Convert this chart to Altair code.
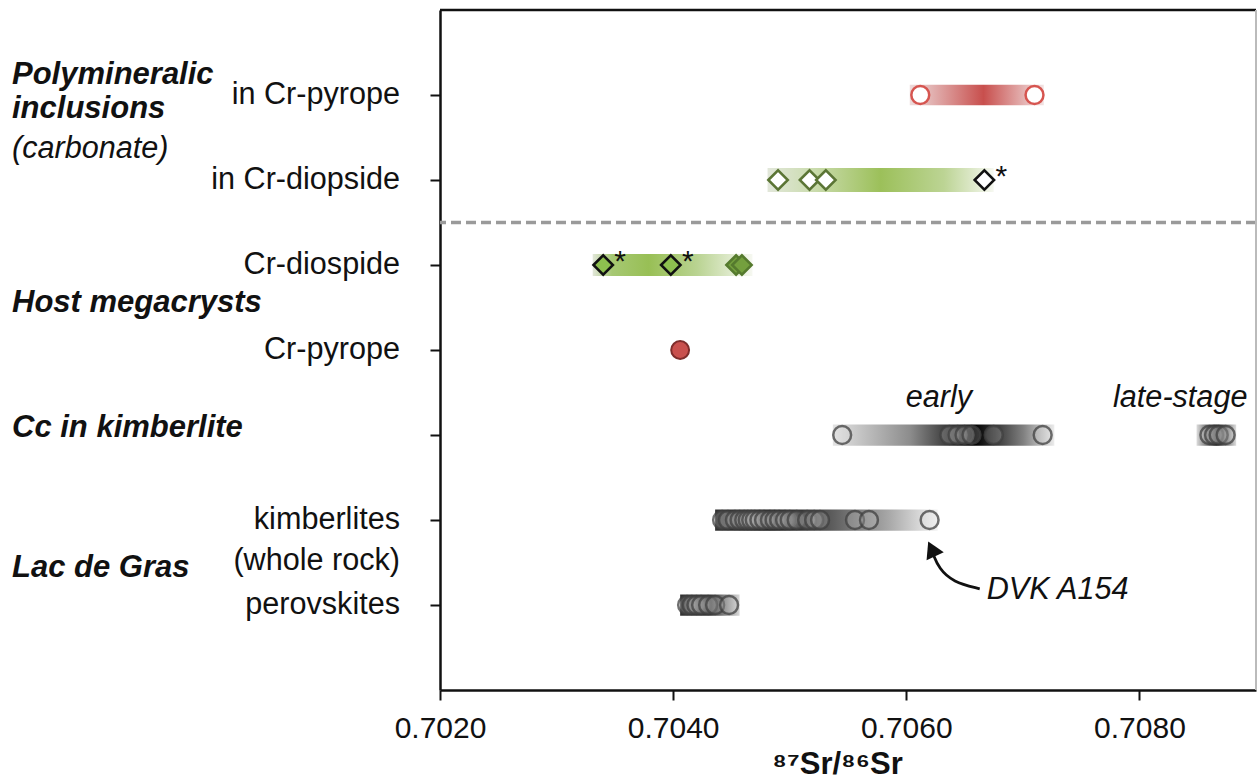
import altair as alt
import pandas as pd

FONT = "Liberation Sans"

# ---------------- data ----------------
# rows (y positions of categories, top = 7)
row_labels = ["in Cr-pyrope", "in Cr-diopside", "Cr-diospide", "Cr-pyrope",
              "kimberlites", "(whole rock)", "perovskites"]
row_label_y = [7, 6, 5, 4, 2, 1.52, 1]
row_ticks = [1, 2, 3, 4, 5, 6, 7]

group_labels = ["Polymineralic", "inclusions", "(carbonate)",
                "Host megacrysts", "Cc in kimberlite", "Lac de Gras"]
group_label_y = [7.23, 6.83, 6.36, 4.55, 3.08, 1.43]
group_label_weight = ["bold", "bold", "normal", "bold", "bold", "bold"]

# polymineralic inclusions in Cr-pyrope (open red circles)
incl_pyrope = [0.70612, 0.70710]
# polymineralic inclusions in Cr-diopside (open diamonds; last one black with *)
incl_diop_green = [0.70490, 0.70517, 0.70531]
incl_diop_black = [0.70667]
# host Cr-diopside megacrysts
host_diop_star = [0.70340, 0.70398]
host_diop_plain = [0.70454, 0.70459]
# host Cr-pyrope
host_pyrope = [0.70406]
# calcite in kimberlite
cc_early = [0.70545, 0.70637, 0.70644, 0.70650, 0.70656, 0.70675, 0.70717]
cc_late = [0.70860, 0.70864, 0.70868, 0.70874]
# Lac de Gras kimberlites (whole rock)
kimb = [0.70442, 0.70447, 0.70453, 0.70457, 0.70461, 0.70464, 0.70467, 0.70470,
        0.70474, 0.70478, 0.70483, 0.70487, 0.70491, 0.70496, 0.70500, 0.70506,
        0.70515, 0.70521, 0.70526, 0.70556, 0.70568, 0.70620]
# perovskites
perov = [0.70412, 0.70416, 0.70420, 0.70424, 0.70430, 0.70436, 0.70448]

# gradient range bars
bar_row = [7, 6, 5, 3, 3, 2, 1]
bar_lo = [0.70603, 0.70481, 0.70331, 0.70537, 0.70849, 0.70436, 0.70406]
bar_hi = [0.70718, 0.70675, 0.70468, 0.70727, 0.70883, 0.70627, 0.70457]
bar_half = [0.12, 0.14, 0.13, 0.125, 0.125, 0.125, 0.125]
bar_stops = [
    [(0, "#eddcdc"), (0.55, "#c84f4d"), (1, "#f2e4e4")],
    [(0, "#e2e7da"), (0.2, "#cbdcaf"), (0.5, "#9cc05a"), (0.78, "#bcd494"), (1, "#f6f8f1")],
    [(0, "#e1e6d8"), (0.12, "#a6c873"), (0.35, "#98bf55"), (0.65, "#b9d391"), (1, "#f6f8f1")],
    [(0, "#e3e3e3"), (0.35, "#8c8c8c"), (0.64, "#000000"), (0.86, "#808080"), (1, "#ececec")],
    [(0, "#dddddd"), (0.5, "#111111"), (1, "#dddddd")],
    [(0, "#333333"), (0.25, "#111111"), (0.5, "#555555"), (0.78, "#a8a8a8"), (1, "#f4f4f4")],
    [(0, "#333333"), (0.5, "#333333"), (1, "#d8d8d8")],
]

# annotations
stage_text = ["early", "late-stage"]
stage_x = [0.70628, 0.70835]
stage_y = [3.43, 3.43]
dvk_text = ["DVK A154"]
dvk_x = [0.70669]
dvk_y = [1.18]
arrow_x = [0.70663, 0.70640, 0.70628, 0.70623]
arrow_y = [1.19, 1.27, 1.43, 1.60]
arrow_head_x = [0.706218]
arrow_head_y = [1.66]
dashed_y = [5.5]

# ---------------- scales / encodings ----------------
xscale = alt.Scale(domain=[0.7020, 0.7090], nice=False, zero=False)
yscale = alt.Scale(domain=[0, 8], nice=False, zero=False)
xaxis = alt.Axis(values=[0.702, 0.704, 0.706, 0.708], format=".4f",
                 title="⁸⁷Sr/⁸⁶Sr", grid=False, labelFlush=False, titleX=397)
yaxis = alt.Axis(values=row_ticks, labels=False, title=None, grid=False)


def X(f="v", **kw):
    return alt.X(f"{f}:Q", scale=xscale, axis=xaxis, **kw)


def Y(f="y", **kw):
    return alt.Y(f"{f}:Q", scale=yscale, axis=yaxis, **kw)


def pts(vals, row):
    return pd.DataFrame({"v": vals, "y": [row] * len(vals)})


layers = []

# gradient bars
for r, lo, hi, h, stops in zip(bar_row, bar_lo, bar_hi, bar_half, bar_stops):
    df = pd.DataFrame({"v": [lo], "v2": [hi], "y": [r + h], "y2": [r - h]})
    grad = alt.Gradient(gradient="linear", x1=0, x2=1, y1=0, y2=0,
                        stops=[alt.GradientStop(offset=o, color=c) for o, c in stops])
    layers.append(alt.Chart(df).mark_rect(color=grad).encode(
        x=X(), x2="v2:Q", y=Y(), y2="y2:Q"))

# dashed separator
layers.append(alt.Chart(pd.DataFrame({"y": dashed_y})).mark_rule(
    color="#9a9a9a", strokeWidth=3.5, strokeDash=[10, 5]).encode(y=Y()))

# points
layers.append(alt.Chart(pts(incl_pyrope, 7)).mark_point(
    shape="circle", size=320, filled=True, fill="white", stroke="#d65550",
    strokeWidth=2.5, opacity=1).encode(x=X(), y=Y()))
layers.append(alt.Chart(pts(incl_diop_green, 6)).mark_point(
    shape="diamond", size=380, filled=True, fill="white", stroke="#5b7535",
    strokeWidth=2.5, opacity=1).encode(x=X(), y=Y()))
layers.append(alt.Chart(pts(incl_diop_black, 6)).mark_point(
    shape="diamond", size=380, filled=True, fill="white", stroke="#111111",
    strokeWidth=2.5, opacity=1).encode(x=X(), y=Y()))
layers.append(alt.Chart(pts(host_diop_plain, 5)).mark_point(
    shape="diamond", size=380, filled=True, fill="#74a03e", stroke="#557a2e",
    strokeWidth=2.5, opacity=1).encode(x=X(), y=Y()))
layers.append(alt.Chart(pts(host_diop_star, 5)).mark_point(
    shape="diamond", size=380, filled=True, fill="#8dbf4f", stroke="#111111",
    strokeWidth=2.5, opacity=1).encode(x=X(), y=Y()))
layers.append(alt.Chart(pts(host_pyrope, 4)).mark_point(
    shape="circle", size=320, filled=True, fill="#c9504d", stroke="#7f2d2b",
    strokeWidth=2, opacity=1).encode(x=X(), y=Y()))
for vals, r in [(cc_early, 3), (cc_late, 3), (kimb, 2), (perov, 1)]:
    layers.append(alt.Chart(pts(vals, r)).mark_point(
        shape="circle", size=320, filled=True, fill="#e0e0e0", fillOpacity=0.22,
        stroke="#404040", strokeOpacity=0.75, strokeWidth=2.5).encode(x=X(), y=Y()))

# asterisks
star_df = pd.concat([pts(incl_diop_black, 6), pts(host_diop_star, 5)])
layers.append(alt.Chart(star_df).mark_text(
    text="*", font=FONT, fontSize=30, dx=17, dy=-3, align="center",
    baseline="middle", color="#111111").encode(x=X(), y=Y()))

# early / late-stage labels
layers.append(alt.Chart(pd.DataFrame({"v": stage_x, "y": stage_y, "t": stage_text})).mark_text(
    font=FONT, fontSize=30.6, fontStyle="italic", align="center", baseline="middle",
    color="#111111").encode(x=X(), y=Y(), text="t:N"))

# DVK A154 arrow + label
layers.append(alt.Chart(pd.DataFrame({"v": dvk_x, "y": dvk_y, "t": dvk_text})).mark_text(
    font=FONT, fontSize=30.6, fontStyle="italic", align="left", baseline="middle",
    color="#111111").encode(x=X(), y=Y(), text="t:N"))
layers.append(alt.Chart(pd.DataFrame({"v": arrow_x, "y": arrow_y,
                                      "i": list(range(len(arrow_x)))})).mark_line(
    color="#111111", strokeWidth=2.8, interpolate="basis").encode(
    x=X(), y=Y(), order="i:Q"))
layers.append(alt.Chart(pd.DataFrame({"v": arrow_head_x, "y": arrow_head_y})).mark_point(
    shape="triangle-up", size=360, filled=True, color="#111111", angle=335,
    opacity=1).encode(x=X(), y=Y()))

# row labels (right aligned next to the axis)
layers.append(alt.Chart(pd.DataFrame({"y": row_label_y, "t": row_labels})).mark_text(
    font=FONT, fontSize=30.6, align="right", baseline="middle", color="#111111").encode(
    x=alt.value(-40), y=Y(), text="t:N"))

# group labels (left)
gdf = pd.DataFrame({"y": group_label_y, "t": group_labels, "w": group_label_weight})
layers.append(alt.Chart(gdf[gdf.w == "bold"]).mark_text(
    font=FONT, fontSize=31, fontStyle="italic", fontWeight="bold", align="left",
    baseline="middle", color="#111111").encode(x=alt.value(-428), y=Y(), text="t:N"))
layers.append(alt.Chart(gdf[gdf.w == "normal"]).mark_text(
    font=FONT, fontSize=30.6, fontStyle="italic", align="left",
    baseline="middle", color="#111111").encode(x=alt.value(-428), y=Y(), text="t:N"))

# frame: top (black) and right (light gray)
layers.append(alt.Chart(pd.DataFrame({"y": [8]})).mark_rule(
    color="#111111", strokeWidth=2.5).encode(y=Y()))
layers.append(alt.Chart(pd.DataFrame({"v": [0.7090]})).mark_rule(
    color="#bbbbbb", strokeWidth=2).encode(x=X()))

chart = alt.layer(*layers).properties(
    width=816, height=680,
    autosize=alt.AutoSizeParams(type="none"),
    padding={"left": 440, "top": 10, "right": 1, "bottom": 93},
    background="white",
).configure_view(stroke=None).configure_axis(
    domainColor="#111111", domainWidth=2.5, tickColor="#111111", tickWidth=2,
    tickSize=10, labelFont=FONT, labelFontSize=30, labelColor="#111111",
    labelPadding=13, titleFont=FONT, titleFontSize=31, titleFontWeight="bold",
    titleColor="#111111", titlePadding=6,
)

chart.save("out.html", embed_options={"renderer": "svg", "actions": False})
